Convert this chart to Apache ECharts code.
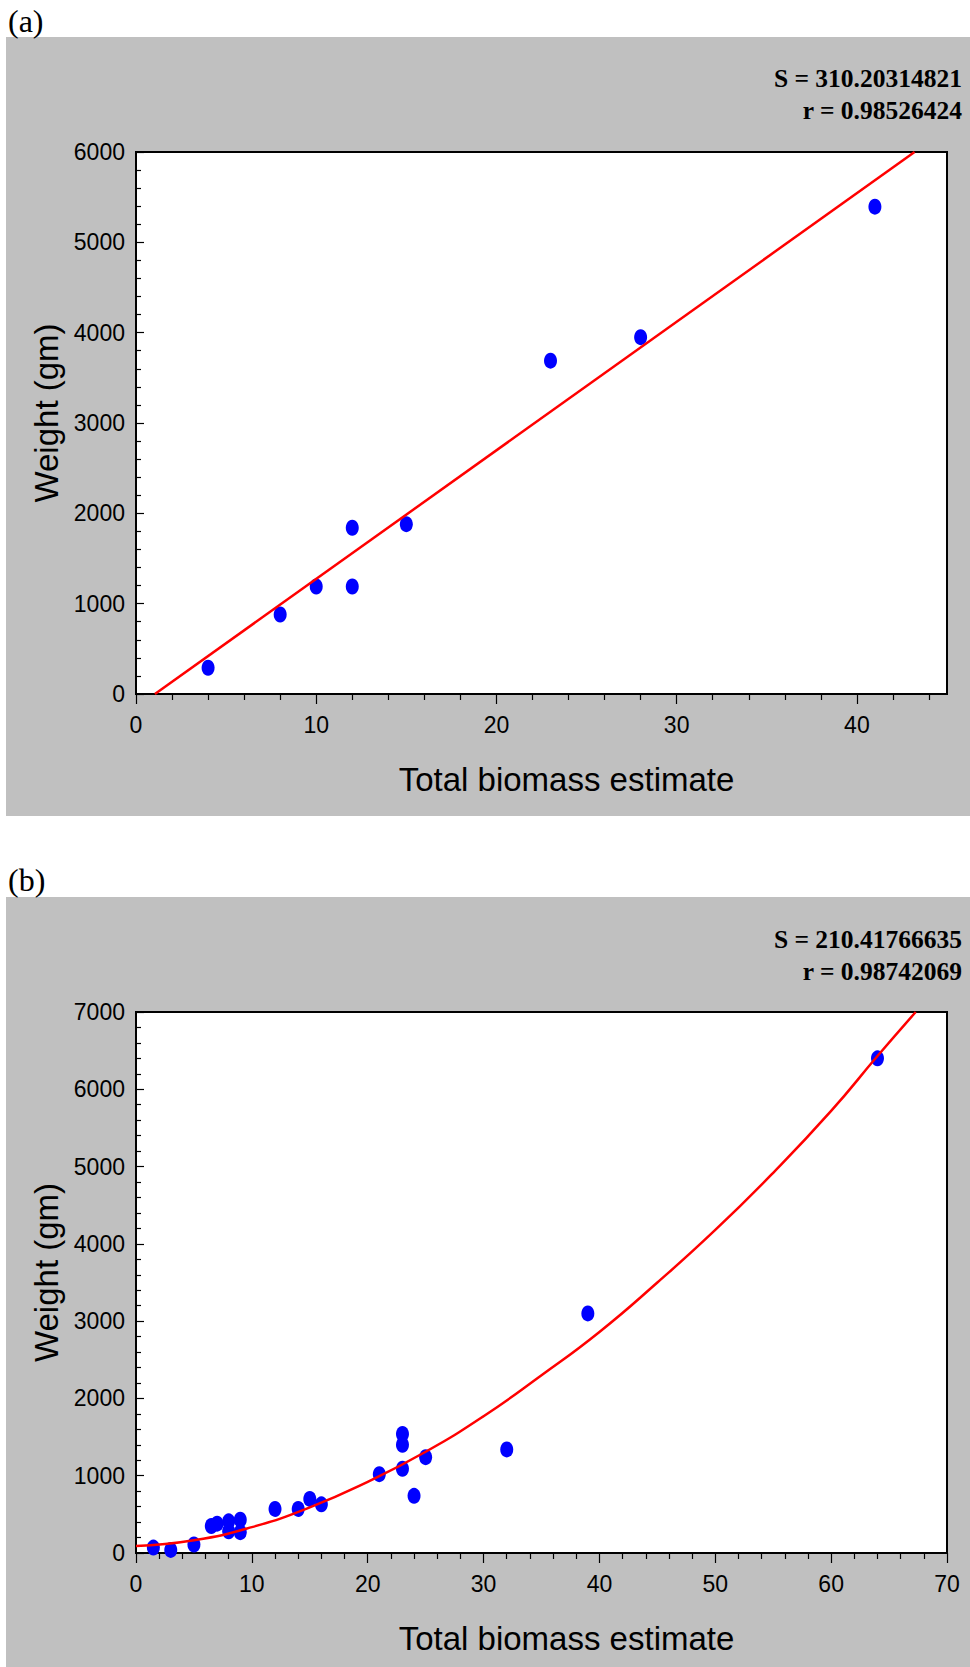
<!DOCTYPE html>
<html>
<head>
<meta charset="utf-8">
<script src="https://cdn.jsdelivr.net/npm/echarts@6/dist/echarts.min.js"></script>
<style>
html,body{margin:0;padding:0;background:#fff;}
#chart{width:970px;height:1667px;}
</style>
</head>
<body>
<div id="chart"></div>
<script>
// ---------- Panel (a) data ----------
const xA = [4, 8, 10, 12, 12, 15, 23, 28, 41];
const yA = [290, 880, 1190, 1840, 1190, 1880, 3690, 3950, 5395];
const fitAx = [1.05, 43.2];
const fitAy = [0, 6000];
const xMajorTicksA = [0, 10, 20, 30, 40];
const xMinorTicksA = [2, 4, 6, 8, 12, 14, 16, 18, 22, 24, 26, 28, 32, 34, 36, 38, 42, 44];
const statsA = ['S = 310.20314821', 'r = 0.98526424'];

// ---------- Panel (b) data ----------
const xB = [1.5, 3, 5, 6.5, 7, 8, 8, 9, 9, 12, 14, 15, 16, 21, 23, 23, 23, 24, 25, 32, 39, 64];
const yB = [70, 40, 110, 350, 380, 410, 280, 430, 270, 570, 570, 700, 630, 1020, 1540, 1400, 1090, 740, 1240, 1340, 3100, 6400];
const fitBx = [0, 5, 10, 15, 20, 25, 30, 35, 40, 45, 50, 55, 60, 64, 67.3];
const fitBy = [90, 165, 335, 590, 920, 1310, 1770, 2300, 2860, 3500, 4180, 4920, 5720, 6430, 7000];
const statsB = ['S = 210.41766635', 'r = 0.98742069'];

const xTitle = 'Total biomass estimate';
const yTitle = 'Weight (gm)';
const panelLabels = ['(a)', '(b)'];

const SANS = '"Liberation Sans", Arial, sans-serif';
const SERIF = '"Liberation Serif", "Times New Roman", serif';

function pairs(xs, ys) { return xs.map((x, i) => [x, ys[i]]); }
function plain(v) { return String(v); }

const chart = echarts.init(document.getElementById('chart'), null, {renderer: 'svg'});

const axisLineStyle = {show: true, lineStyle: {color: '#000', width: 1.5}};
const labelStyle = {color: '#000', fontSize: 23, fontFamily: SANS, formatter: plain};

function yAxisDef(gridIndex, max) {
  return {
    type: 'value', gridIndex: gridIndex, min: 0, max: max, interval: 1000,
    position: 'left',
    axisLine: axisLineStyle,
    axisTick: {show: true, inside: true, length: 8, lineStyle: {color: '#000', width: 1.2}},
    minorTick: {show: true, splitNumber: 5, length: 5, lineStyle: {color: '#000', width: 1.2}},
    splitLine: {show: false},
    axisLabel: Object.assign({margin: 11}, labelStyle),
    name: yTitle, nameLocation: 'middle', nameGap: 70,
    nameTextStyle: {color: '#000', fontSize: 33, fontFamily: SANS, padding: [0, 0, 0, 20]}
  };
}

const statFont = 'bold 25.5px ' + SERIF;
const panelFont = '32px ' + SERIF;

const option = {
  backgroundColor: '#fff',
  animation: false,
  graphic: {
    elements: [
      {type: 'rect', z: -100, shape: {x: 6, y: 37, width: 964, height: 779}, style: {fill: '#C0C0C0'}},
      {type: 'rect', z: -100, shape: {x: 6, y: 897, width: 964, height: 770}, style: {fill: '#C0C0C0'}},
      {type: 'text', z: 100, x: 8, y: 21, style: {text: panelLabels[0], font: panelFont, fill: '#000', textVerticalAlign: 'middle'}},
      {type: 'text', z: 100, x: 8, y: 880, style: {text: panelLabels[1], font: panelFont, fill: '#000', textVerticalAlign: 'middle'}},
      {type: 'text', z: 100, x: 962, y: 78, style: {text: statsA[0], font: statFont, fill: '#000', textAlign: 'right', textVerticalAlign: 'middle'}},
      {type: 'text', z: 100, x: 962, y: 110, style: {text: statsA[1], font: statFont, fill: '#000', textAlign: 'right', textVerticalAlign: 'middle'}},
      {type: 'text', z: 100, x: 962, y: 939, style: {text: statsB[0], font: statFont, fill: '#000', textAlign: 'right', textVerticalAlign: 'middle'}},
      {type: 'text', z: 100, x: 962, y: 971, style: {text: statsB[1], font: statFont, fill: '#000', textAlign: 'right', textVerticalAlign: 'middle'}}
    ]
  },
  grid: [
    {left: 136, top: 152, width: 811, height: 542, show: true, backgroundColor: '#fff', borderColor: '#000', borderWidth: 2},
    {left: 136, top: 1012, width: 811, height: 541, show: true, backgroundColor: '#fff', borderColor: '#000', borderWidth: 2}
  ],
  xAxis: [
    {
      type: 'value', gridIndex: 0, min: 0, max: 45, position: 'bottom',
      axisLine: axisLineStyle,
      axisTick: {show: true, inside: false, length: 10, customValues: xMajorTicksA, lineStyle: {color: '#000', width: 1.2}},
      axisLabel: Object.assign({margin: 19, customValues: xMajorTicksA}, labelStyle),
      splitLine: {show: false},
      name: xTitle, nameLocation: 'middle', nameGap: 69,
      nameTextStyle: {color: '#000', fontSize: 33, fontFamily: SANS, padding: [0, 0, 0, 50]}
    },
    {
      type: 'value', gridIndex: 0, min: 0, max: 45, position: 'bottom',
      axisLine: {show: false},
      axisTick: {show: true, inside: false, length: 6, customValues: xMinorTicksA, lineStyle: {color: '#000', width: 1.2}},
      axisLabel: {show: false},
      splitLine: {show: false}
    },
    {
      type: 'value', gridIndex: 1, min: 0, max: 70, interval: 10, position: 'bottom',
      axisLine: axisLineStyle,
      axisTick: {show: true, inside: false, length: 10, lineStyle: {color: '#000', width: 1.2}},
      minorTick: {show: true, splitNumber: 5, length: 6, lineStyle: {color: '#000', width: 1.2}},
      axisLabel: Object.assign({margin: 19}, labelStyle),
      splitLine: {show: false},
      name: xTitle, nameLocation: 'middle', nameGap: 69,
      nameTextStyle: {color: '#000', fontSize: 33, fontFamily: SANS, padding: [0, 0, 0, 50]}
    }
  ],
  yAxis: [yAxisDef(0, 6000), yAxisDef(1, 7000)],
  series: [
    {
      type: 'scatter', xAxisIndex: 0, yAxisIndex: 0, data: pairs(xA, yA),
      symbol: 'circle', symbolSize: [13, 16], itemStyle: {color: '#0000FF', opacity: 1}, z: 2
    },
    {
      type: 'line', xAxisIndex: 0, yAxisIndex: 0, data: pairs(fitAx, fitAy),
      showSymbol: false, lineStyle: {color: '#FF0000', width: 2.5}, z: 3, clip: true
    },
    {
      type: 'scatter', xAxisIndex: 2, yAxisIndex: 1, data: pairs(xB, yB),
      symbol: 'circle', symbolSize: [13, 16], itemStyle: {color: '#0000FF', opacity: 1}, z: 2
    },
    {
      type: 'line', xAxisIndex: 2, yAxisIndex: 1, data: pairs(fitBx, fitBy),
      smooth: 0.5, showSymbol: false,
      lineStyle: {color: '#FF0000', width: 2.5}, z: 3, clip: true
    }
  ]
};

chart.setOption(option);
</script>
</body>
</html>
